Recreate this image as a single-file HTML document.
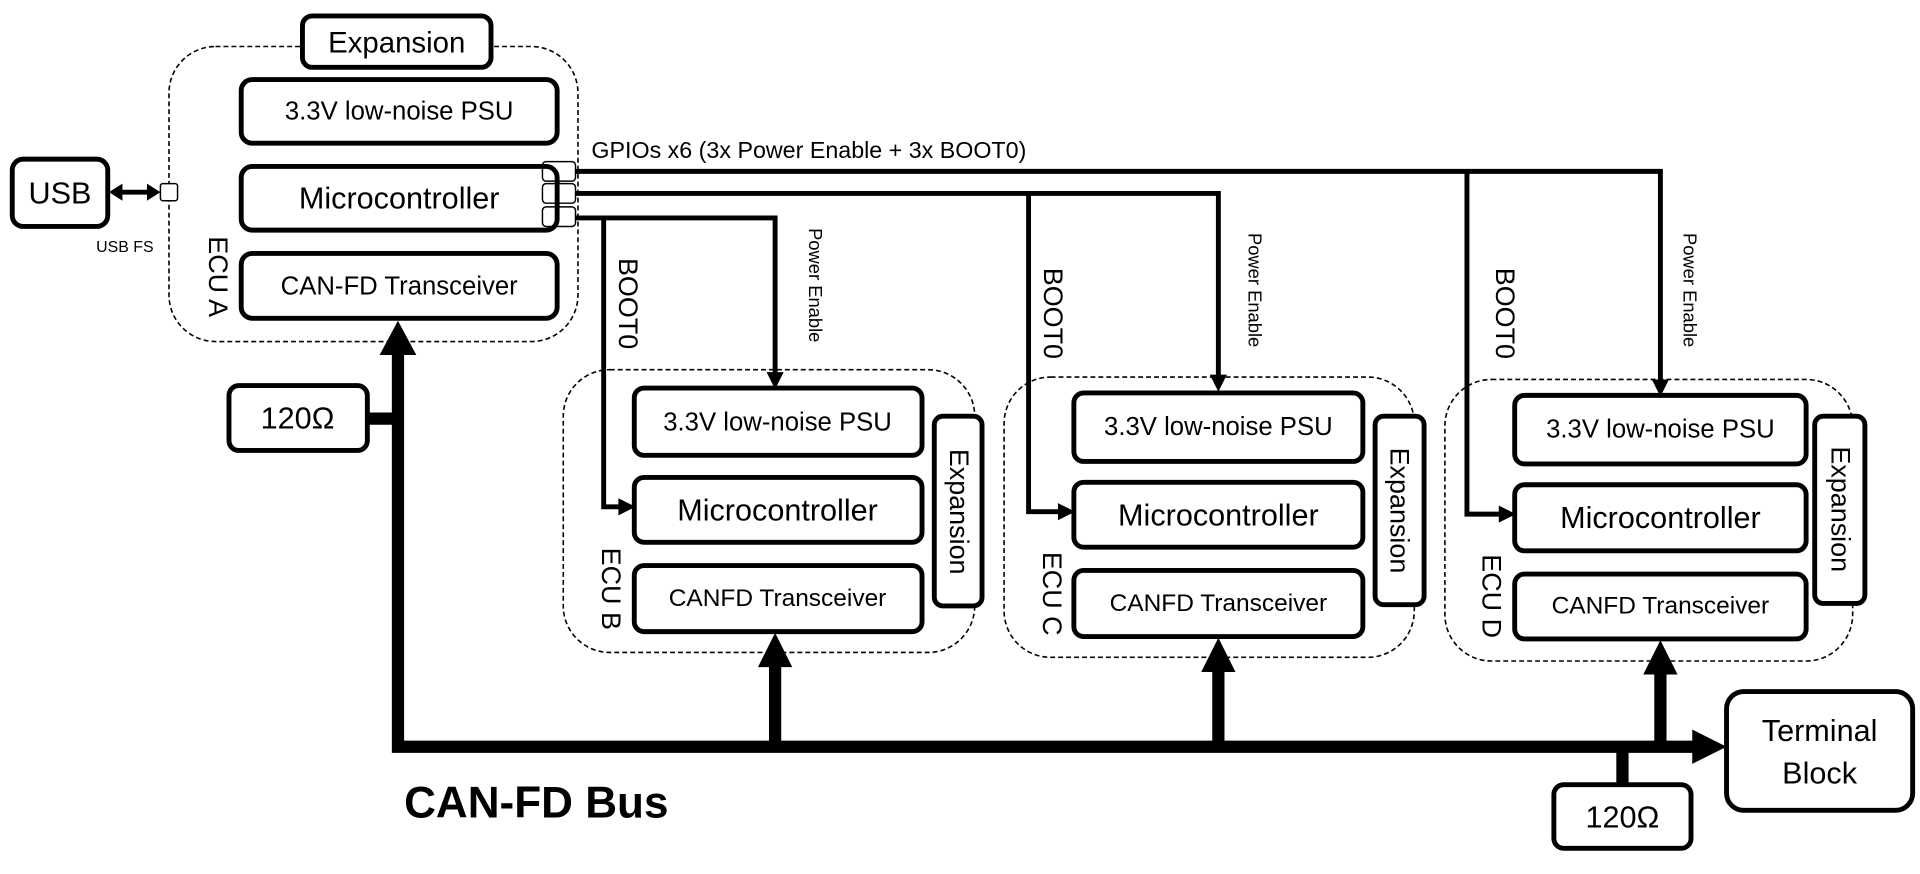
<!DOCTYPE html>
<html><head><meta charset="utf-8"><style>
html,body{margin:0;padding:0;background:#fff;}
svg{display:block;}
text{font-family:"Liberation Sans",sans-serif;fill:#000;}
</style></head><body>
<svg width="1920" height="874" viewBox="0 0 1568 714" preserveAspectRatio="none" xmlns="http://www.w3.org/2000/svg">
<g fill="none" stroke="#000" stroke-width="1.3" stroke-dasharray="4,2.5">
<rect x="138" y="38" width="334" height="241" rx="38"/>
<rect x="460" y="302" width="336" height="231" rx="38"/>
<rect x="820" y="308" width="335" height="229" rx="38"/>
<rect x="1180" y="310" width="333" height="230" rx="38"/>
</g>
<g fill="#fff" stroke="#000" stroke-width="4">
<rect x="247" y="13" width="154" height="42" rx="8"/>
<rect x="197" y="65" width="258" height="52" rx="9"/>
<rect x="197" y="136" width="258" height="52" rx="9"/>
<rect x="197" y="207" width="258" height="53" rx="9"/>
<rect x="10" y="130" width="78" height="55" rx="9"/>
<rect x="187" y="315" width="113" height="53" rx="8"/>
<rect x="1269" y="641" width="112" height="52" rx="8"/>
<rect x="1410" y="565" width="152" height="97" rx="14"/>
<rect x="518" y="317" width="235" height="55" rx="8"/>
<rect x="518" y="390" width="235" height="53" rx="8"/>
<rect x="518" y="462" width="235" height="54" rx="8"/>
<rect x="763" y="340" width="39" height="155" rx="7"/>
<rect x="877" y="321" width="236" height="56" rx="8"/>
<rect x="877" y="394" width="236" height="53" rx="8"/>
<rect x="877" y="466" width="236" height="54" rx="8"/>
<rect x="1123" y="340" width="40" height="154" rx="7"/>
<rect x="1237" y="323" width="238" height="56" rx="8"/>
<rect x="1237" y="396" width="238" height="54" rx="8"/>
<rect x="1237" y="469" width="238" height="53" rx="8"/>
<rect x="1482" y="340" width="41" height="153" rx="7"/>
</g>
<g fill="none" stroke="#000" stroke-width="1.2">
<rect x="443" y="132" width="27" height="16" rx="3"/>
<rect x="443" y="150" width="27" height="16" rx="3"/>
<rect x="443" y="169" width="27" height="16" rx="3"/>
</g>
<rect x="131" y="150" width="14" height="14" rx="2" fill="#fff" stroke="#000" stroke-width="1.2"/>
<g fill="none" stroke="#000" stroke-width="4">
<polyline points="470,140 1356,140 1356,316"/>
<polyline points="1198,140 1198,420 1230,420"/>
<polyline points="470,158 995,158 995,312"/>
<polyline points="840,158 840,418 870,418"/>
<polyline points="470,178 633,178 633,310"/>
<polyline points="493,178 493,414 511,414"/>
<line x1="97" y1="157" x2="122" y2="157"/>
</g>
<g fill="#000">
<path d="M1349,310 L1363,310 L1356,324 z"/>
<path d="M988,306 L1002,306 L995,320 z"/>
<path d="M626,304 L640,304 L633,318 z"/>
<path d="M1224,413 L1238,420 L1224,427 z"/>
<path d="M864,411 L878,418 L864,425 z"/>
<path d="M505,407 L519,414 L505,421 z"/>
<path d="M89,157 L100,150 L100,164 z"/>
<path d="M131,157 L120,150 L120,164 z"/>
</g>
<g fill="none" stroke="#000" stroke-width="10">
<polyline points="325,288 325,610 1385,610"/>
<line x1="300" y1="342" x2="325" y2="342"/>
<line x1="633" y1="610" x2="633" y2="540"/>
<line x1="995" y1="610" x2="995" y2="544"/>
<line x1="1356" y1="610" x2="1356" y2="546"/>
<line x1="1325" y1="610" x2="1325" y2="641"/>
</g>
<g fill="#000">
<path d="M310,290 L340,290 L325,262 z"/>
<path d="M619,545 L647,545 L633,517 z"/>
<path d="M981,549 L1009,549 L995,521 z"/>
<path d="M1342,551 L1370,551 L1356,523 z"/>
<path d="M1382,596 L1382,624 L1410,610 z"/>
</g>
<g text-anchor="middle" dominant-baseline="central">
<text x="324" y="35" font-size="24">Expansion</text>
<text x="326" y="91" font-size="21">3.3V low-noise PSU</text>
<text x="326" y="162" font-size="25">Microcontroller</text>
<text x="326" y="234" font-size="21">CAN-FD Transceiver</text>
<text x="49" y="158" font-size="25">USB</text>
<text x="102" y="202" font-size="13">USB FS</text>
<text x="243" y="342" font-size="25">120Ω</text>
<text x="1325" y="668" font-size="25">120Ω</text>
<text x="1486" y="597" font-size="25">Terminal</text>
<text x="1486" y="632" font-size="25">Block</text>
<text x="635" y="345" font-size="21">3.3V low-noise PSU</text>
<text x="635" y="417" font-size="25">Microcontroller</text>
<text x="635" y="489" font-size="20">CANFD Transceiver</text>
<text x="995" y="349" font-size="21">3.3V low-noise PSU</text>
<text x="995" y="421" font-size="25">Microcontroller</text>
<text x="995" y="493" font-size="20">CANFD Transceiver</text>
<text x="1356" y="351" font-size="21">3.3V low-noise PSU</text>
<text x="1356" y="423" font-size="25">Microcontroller</text>
<text x="1356" y="495" font-size="20">CANFD Transceiver</text>
<text transform="translate(783,418) rotate(90)" font-size="22">Expansion</text>
<text transform="translate(1143,417) rotate(90)" font-size="22">Expansion</text>
<text transform="translate(1503,416) rotate(90)" font-size="22">Expansion</text>
<text transform="translate(178,226) rotate(90)" font-size="22">ECU A</text>
<text transform="translate(499,481) rotate(90)" font-size="22">ECU B</text>
<text transform="translate(859,485) rotate(90)" font-size="22">ECU C</text>
<text transform="translate(1218,487) rotate(90)" font-size="22">ECU D</text>
<text transform="translate(513,248) rotate(90)" font-size="22">BOOT0</text>
<text transform="translate(860,256) rotate(90)" font-size="22">BOOT0</text>
<text transform="translate(1229,256) rotate(90)" font-size="22">BOOT0</text>
<text transform="translate(666,233) rotate(90)" font-size="15">Power Enable</text>
<text transform="translate(1025,237) rotate(90)" font-size="15">Power Enable</text>
<text transform="translate(1380,237) rotate(90)" font-size="15">Power Enable</text>
</g>
<text x="483" y="129" font-size="19">GPIOs x6 (3x Power Enable + 3x BOOT0)</text>
<text x="330" y="668" font-size="36" font-weight="bold">CAN-FD Bus</text>
</svg>
</body></html>
